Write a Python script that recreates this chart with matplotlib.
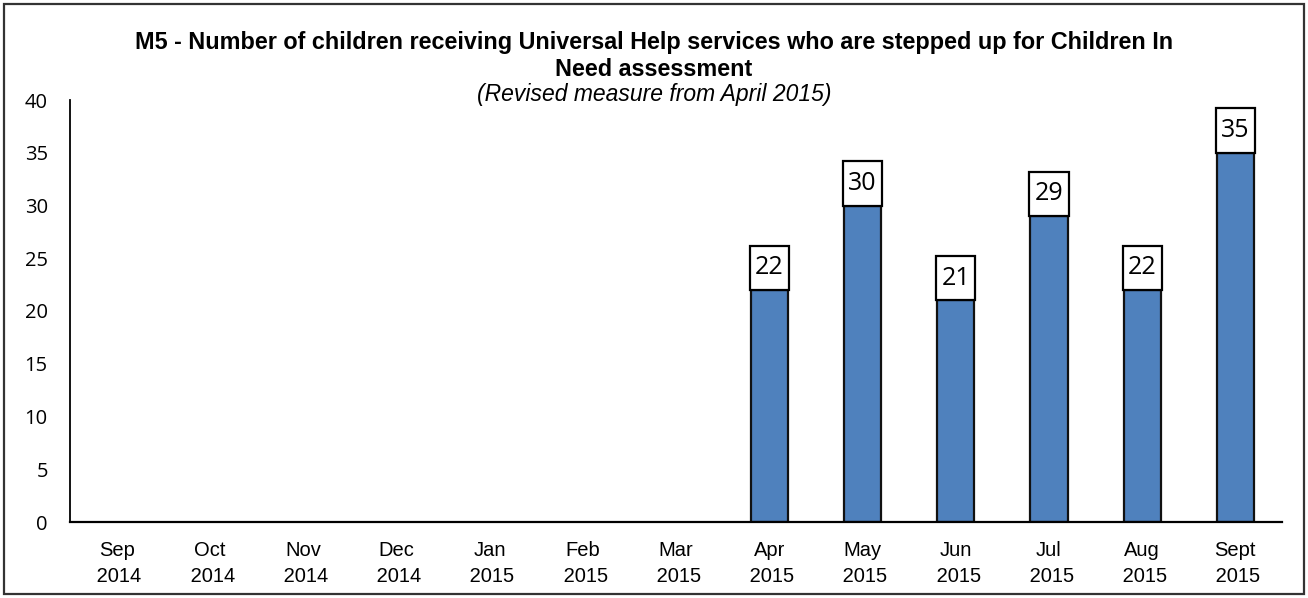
import matplotlib
matplotlib.use("Agg")
import matplotlib.pyplot as plt
from matplotlib.patches import Rectangle

months = ["Sep", "Oct", "Nov", "Dec", "Jan", "Feb", "Mar", "Apr", "May", "Jun", "Jul", "Aug", "Sept"]
years = ["2014", "2014", "2014", "2014", "2015", "2015", "2015", "2015", "2015", "2015", "2015", "2015", "2015"]
values = [None, None, None, None, None, None, None, 22, 30, 21, 29, 22, 35]
yticks = [0, 5, 10, 15, 20, 25, 30, 35, 40]

title = "M5 - Number of children receiving Universal Help services who are stepped up for Children In\nNeed assessment"
subtitle = "(Revised measure from April 2015)"

fig = plt.figure(figsize=(13.08, 5.98), dpi=100)
ax = fig.add_axes([70/1308, 1-522/598, (1282-70)/1308, (522-100)/598])

x = list(range(len(months)))
xs = [i for i, v in zip(x, values) if v is not None]
vs = [v for v in values if v is not None]
bw = 0.4
ax.bar(xs, vs, width=bw, color="#4F81BD", edgecolor="#111111", linewidth=1.6, zorder=2)

box_h = 4.2
for i, v in zip(xs, vs):
    ax.add_patch(Rectangle((i - bw/2 - 0.01, v), bw + 0.02, box_h, facecolor="white",
                           edgecolor="black", linewidth=1.6, zorder=3, clip_on=False))
    ax.text(i, v + box_h/2, str(v), ha="center", va="center", fontsize=18,
            family="Open Sans", zorder=4)

ax.set_xlim(-0.5, len(months) - 0.5)
ax.set_ylim(0, 40)
ax.set_yticks(yticks)
ax.set_yticklabels([str(t) for t in yticks], fontsize=14.5, family="Open Sans")
ax.set_xticks(x)
ax.set_xticklabels([f"{m}\n {y}" for m, y in zip(months, years)], fontsize=14.5,
                   family="Liberation Sans", linespacing=1.45)
ax.tick_params(axis="x", length=0, pad=14)
ax.tick_params(axis="y", length=0, pad=16)
for s in ["top", "right"]:
    ax.spines[s].set_visible(False)
ax.spines["left"].set_linewidth(1.3)
ax.spines["bottom"].set_linewidth(1.6)

fig.text(0.5, 1-56/598, title, ha="center", va="center", fontsize=16.8, fontweight="bold",
         family="Liberation Sans", linespacing=1.25)
fig.text(0.5, 1-94/598, subtitle, ha="center", va="center", fontsize=16.5, style="italic",
         family="Liberation Sans")

fig.add_artist(Rectangle((4/1308, 4/598), 1300/1308, 590/598, transform=fig.transFigure,
                         fill=False, edgecolor="#333333", linewidth=1.6))

fig.savefig("out.png", dpi=100)
